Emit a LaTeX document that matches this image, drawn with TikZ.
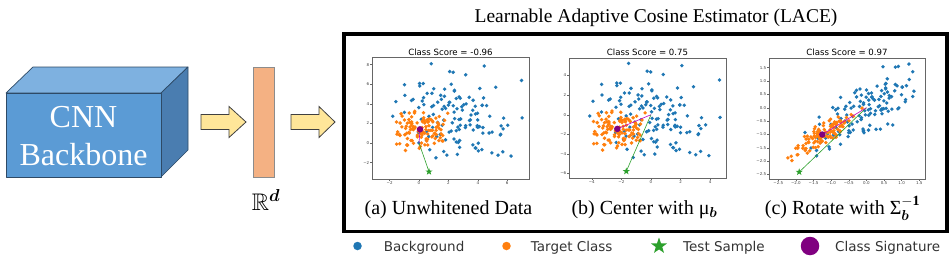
\documentclass[tikz,border=0pt]{standalone}
\usepackage{amsmath,amssymb,bm}
\usepackage{fontspec}
\setmainfont{Liberation Serif}
\newfontfamily\dejavu{DejaVu Sans}
\usetikzlibrary{shapes.geometric}
\definecolor{mblue}{HTML}{1F77B4}
\definecolor{morange}{HTML}{FF7F0E}
\definecolor{mgreen}{HTML}{2CA02C}
\definecolor{mpurple}{HTML}{800080}
\definecolor{mmag}{HTML}{BF00BF}
\definecolor{cubefront}{HTML}{5B9BD5}
\definecolor{cubetop}{HTML}{7EB1E0}
\definecolor{cubeside}{HTML}{4A7DB0}
\definecolor{cubeedge}{HTML}{2E4A66}
\definecolor{arrowfill}{HTML}{FFE699}
\definecolor{barfill}{HTML}{F4B183}
\begin{document}
\begin{tikzpicture}[x=1pt,y=-1pt,
  cubeline/.style={draw=cubeedge, line width=0.7pt, line join=round},
  blockarrow/.style={draw=black!75, fill=arrowfill, line width=0.8pt, line join=miter},
  cnntext/.style={anchor=base, text=white, font=\fontsize{32}{38}\selectfont, inner sep=0},
  caption/.style={anchor=base, font=\fontsize{20}{24}\selectfont, inner sep=0},
  plottitle/.style={anchor=base, font=\dejavu\fontsize{8.6}{10}\selectfont, inner sep=0},
  ticklab/.style={font=\dejavu\fontsize{4}{4.5}\selectfont, text=black!75, inner sep=0.6pt},
  tickmark/.style={draw=black!60, line width=0.4pt},
  frame/.style={draw=black!60, line width=0.6pt},
  legtext/.style={anchor=base west, font=\dejavu\fontsize{13.5}{16}\selectfont, text=black!80, inner sep=0},
  teststar/.style={star, star points=5, star point ratio=2.5, fill=mgreen, inner sep=0, minimum size=#1},
  sigmark/.style={circle, fill=mpurple, inner sep=0, minimum size=#1},
  greenline/.style={draw=mgreen, line width=0.6pt},
  magline/.style={draw=mmag, line width=0.6pt}
]
\useasboundingbox (0,0) rectangle (951,257);
\def\dotr{1.9}

% ---------- CNN backbone cube ----------
\draw[cubeline, fill=cubetop] (6,93) -- (33,67) -- (188,67) -- (161,93) -- cycle;
\draw[cubeline, fill=cubeside] (161,93) -- (188,67) -- (188,150) -- (161,177) -- cycle;
\node[cubeline, fill=cubefront, minimum width=155, minimum height=84, inner sep=0, anchor=north west] (cnn) at (6,93) {};
\node[cnntext] (cnnA) at (83.5,127) {CNN};
\node[cnntext] (cnnB) at (83.5,165) {Backbone};

% ---------- arrows and feature vector ----------
\coordinate (arrA) at (201,122);
\draw[blockarrow] (arrA) ++(0,-7.5) -- ++(28,0) -- ++(0,-8) -- ++(17,15.5) -- ++(-17,15.5) -- ++(0,-8) -- ++(-28,0) -- cycle;
\node[draw=black!45, fill=barfill, line width=0.6pt, minimum width=21, minimum height=110, inner sep=0] (bar) at (263.5,122) {};
\coordinate (arrB) at (291,122);
\draw[blockarrow] (arrB) ++(0,-7.5) -- ++(28,0) -- ++(0,-8) -- ++(16,15.5) -- ++(-16,15.5) -- ++(0,-8) -- ++(-28,0) -- cycle;
\node[anchor=base, font=\fontsize{24}{28}\selectfont, inner sep=0] (rd) at (266,210.5) {$\mathbb{R}^{\bm{d}}$};

% ---------- LACE frame ----------
\node[anchor=base, font=\fontsize{19.5}{22}\selectfont, inner sep=0] (lacetitle) at (656,22) {Learnable Adaptive Cosine Estimator (LACE)};
\node[draw=black, line width=3.5pt, minimum width=603, minimum height=197.5, inner sep=0] (lace) at (645.5,132.75) {};

% ---------- Panel (a) ----------
\begin{scope}
\clip (372,57) rectangle (529,179);
\pgfmathsetseed{7}
\foreach \i in {1,...,130}{
  \pgfmathsetmacro\ua{0.0005+0.999*rnd}\pgfmathsetmacro\ub{rnd}
  \pgfmathsetmacro\rr{sqrt(-2*ln(\ua))}
  \pgfmathsetmacro\za{\rr*cos(360*\ub)}\pgfmathsetmacro\zb{\rr*sin(360*\ub)}
  \pgfmathsetmacro\bx{1.75*\za}\pgfmathsetmacro\by{2.05*(-0.35*\za+0.937*\zb)}
  \fill[mblue] ({419+14.7*(\bx+2.35)},{143-9.8*(\by+2.85)}) circle (\dotr);
}
\foreach \i in {1,...,110}{
  \pgfmathsetmacro\ua{0.0005+0.999*rnd}\pgfmathsetmacro\ub{rnd}
  \pgfmathsetmacro\rr{sqrt(-2*ln(\ua))}
  \pgfmathsetmacro\za{\rr*cos(360*\ub)}\pgfmathsetmacro\zb{\rr*sin(360*\ub)}
  \pgfmathsetmacro\bx{-2.28+1.0*\za}\pgfmathsetmacro\by{-1.45+0.9*(0.15*\za+0.989*\zb)}
  \fill[morange] ({419+14.7*(\bx+2.35)},{143-9.8*(\by+2.85)}) circle (\dotr);
}
\end{scope}
\coordinate (oA) at (419,143);
\coordinate (sA) at (420,129.3);
\coordinate (tA) at (429,171.7);
\draw[greenline] (oA) -- (tA);
\draw[magline] (oA) -- (sA);
\node[teststar=7.5] (starA) at (tA) {};
\node[sigmark=6.5] (sigA) at (sA) {};
\node[frame, minimum width=157, minimum height=122, inner sep=0, anchor=north west] (axA) at (372,57) {};
\foreach \v/\l [count=\k] in {-2/−2,0/0,2/2,4/4,6/6}{
  \draw[tickmark] ({419+14.7*\v},179) -- ++(0,2);
  \node[ticklab, anchor=north] (axAx\k) at ({419+14.7*\v},181) {\l};
}
\foreach \v/\l [count=\k] in {-2/−2,0/0,2/2,4/4,6/6,8/8}{
  \draw[tickmark] (372,{143-9.8*\v}) -- ++(-2,0);
  \node[ticklab, anchor=east] (axAy\k) at (370,{143-9.8*\v}) {\l};
}
\node[plottitle] (titA) at (450.5,55.5) {Class Score = -0.96};
\node[caption] (capA) at (448.5,214) {(a) Unwhitened Data};

% ---------- Panel (b) ----------
\begin{scope}
\clip (569,58) rectangle (726,178);
\pgfmathsetseed{7}
\foreach \i in {1,...,130}{
  \pgfmathsetmacro\ua{0.0005+0.999*rnd}\pgfmathsetmacro\ub{rnd}
  \pgfmathsetmacro\rr{sqrt(-2*ln(\ua))}
  \pgfmathsetmacro\za{\rr*cos(360*\ub)}\pgfmathsetmacro\zb{\rr*sin(360*\ub)}
  \pgfmathsetmacro\bx{1.75*\za}\pgfmathsetmacro\by{2.05*(-0.35*\za+0.937*\zb)}
  \fill[mblue] ({651+14.8*\bx},{114.7-9.8*\by}) circle (\dotr);
}
\foreach \i in {1,...,110}{
  \pgfmathsetmacro\ua{0.0005+0.999*rnd}\pgfmathsetmacro\ub{rnd}
  \pgfmathsetmacro\rr{sqrt(-2*ln(\ua))}
  \pgfmathsetmacro\za{\rr*cos(360*\ub)}\pgfmathsetmacro\zb{\rr*sin(360*\ub)}
  \pgfmathsetmacro\bx{-2.28+1.0*\za}\pgfmathsetmacro\by{-1.45+0.9*(0.15*\za+0.989*\zb)}
  \fill[morange] ({651+14.8*\bx},{114.7-9.8*\by}) circle (\dotr);
}
\end{scope}
\coordinate (oB) at (651,114.7);
\coordinate (sB) at (617.3,128.9);
\coordinate (tB) at (626.3,171.3);
\draw[greenline] (oB) -- (tB);
\draw[magline] (oB) -- (sB);
\node[teststar=7.5] (starB) at (tB) {};
\node[sigmark=6.5] (sigB) at (sB) {};
\node[frame, minimum width=157, minimum height=120, inner sep=0, anchor=north west] (axB) at (569,58) {};
\foreach \v/\l [count=\k] in {-4/−4,-2/−2,0/0,2/2,4/4}{
  \draw[tickmark] ({651+14.8*\v},178) -- ++(0,2);
  \node[ticklab, anchor=north] (axBx\k) at ({651+14.8*\v},180) {\l};
}
\foreach \v/\l [count=\k] in {-6/−6,-4/−4,-2/−2,0/0,2/2,4/4}{
  \draw[tickmark] (569,{114.7-9.8*\v}) -- ++(-2,0);
  \node[ticklab, anchor=east] (axBy\k) at (567,{114.7-9.8*\v}) {\l};
}
\node[plottitle] (titB) at (647.5,55.5) {Class Score = 0.75};
\node[caption] (capB) at (644.5,214) {(b) Center with μ$_{\bm{b}}$};

% ---------- Panel (c) ----------
\begin{scope}
\clip (769,58) rectangle (925,179);
\pgfmathsetseed{7}
\foreach \i in {1,...,130}{
  \pgfmathsetmacro\ua{0.0005+0.999*rnd}\pgfmathsetmacro\ub{rnd}
  \pgfmathsetmacro\rr{sqrt(-2*ln(\ua))}
  \pgfmathsetmacro\za{\rr*cos(360*\ub)}\pgfmathsetmacro\zb{\rr*sin(360*\ub)}
  \pgfmathsetmacro\bx{1.75*\za}\pgfmathsetmacro\by{2.05*(-0.35*\za+0.937*\zb)}
  \fill[mblue] ({866.4+35.25*(0.415*\bx+0.21*\by)},{107.7-26.7*(0.214*\bx+0.355*\by)}) circle (\dotr);
}
\foreach \i in {1,...,110}{
  \pgfmathsetmacro\ua{0.0005+0.999*rnd}\pgfmathsetmacro\ub{rnd}
  \pgfmathsetmacro\rr{sqrt(-2*ln(\ua))}
  \pgfmathsetmacro\za{\rr*cos(360*\ub)}\pgfmathsetmacro\zb{\rr*sin(360*\ub)}
  \pgfmathsetmacro\bx{-2.28+1.0*\za}\pgfmathsetmacro\by{-1.45+0.9*(0.15*\za+0.989*\zb)}
  \fill[morange] ({866.4+35.25*(0.415*\bx+0.21*\by)},{107.7-26.7*(0.214*\bx+0.355*\by)}) circle (\dotr);
}
\end{scope}
\coordinate (oC) at (866.4,107.7);
\coordinate (sC) at (822.3,134.5);
\coordinate (tC) at (799.2,172.0);
\draw[greenline] (oC) -- (tC);
\draw[magline] (oC) -- (sC);
\node[teststar=7.5] (starC) at (tC) {};
\node[sigmark=6.5] (sigC) at (sC) {};
\node[frame, minimum width=156, minimum height=121, inner sep=0, anchor=north west] (axC) at (769,58) {};
\foreach \v/\l [count=\k] in {-2.5/−2.5,-2/−2.0,-1.5/−1.5,-1/−1.0,-0.5/−0.5,0/0.0,0.5/0.5,1/1.0,1.5/1.5}{
  \draw[tickmark] ({866.4+35.25*\v},179) -- ++(0,2);
  \node[ticklab, anchor=north] (axCx\k) at ({866.4+35.25*\v},181) {\l};
}
\foreach \v/\l [count=\k] in {-2.5/−2.5,-2/−2.0,-1.5/−1.5,-1/−1.0,-0.5/−0.5,0/0.0,0.5/0.5,1/1.0,1.5/1.5}{
  \draw[tickmark] (769,{107.7-26.7*\v}) -- ++(-2,0);
  \node[ticklab, anchor=east] (axCy\k) at (767,{107.7-26.7*\v}) {\l};
}
\node[plottitle] (titC) at (847,55.5) {Class Score = 0.97};
\node[caption] (capC) at (842.5,214) {(c) Rotate with Σ$^{\mathbf{-1}}_{\bm{b}}$};

% ---------- Legend ----------
\node[circle, fill=mblue, inner sep=0, minimum size=8.5] (legBg) at (357.5,246) {};
\node[legtext] (legBgT) at (383.6,251) {Background};
\node[circle, fill=morange, inner sep=0, minimum size=8.5] (legTc) at (506.5,246) {};
\node[legtext] (legTcT) at (530.7,251) {Target Class};
\node[teststar=17] (legTs) at (659,246) {};
\node[legtext] (legTsT) at (683,251) {Test Sample};
\node[sigmark=18.5] (legCs) at (810,246) {};
\node[legtext] (legCsT) at (835,251) {Class Signature};
\end{tikzpicture}
\end{document}
